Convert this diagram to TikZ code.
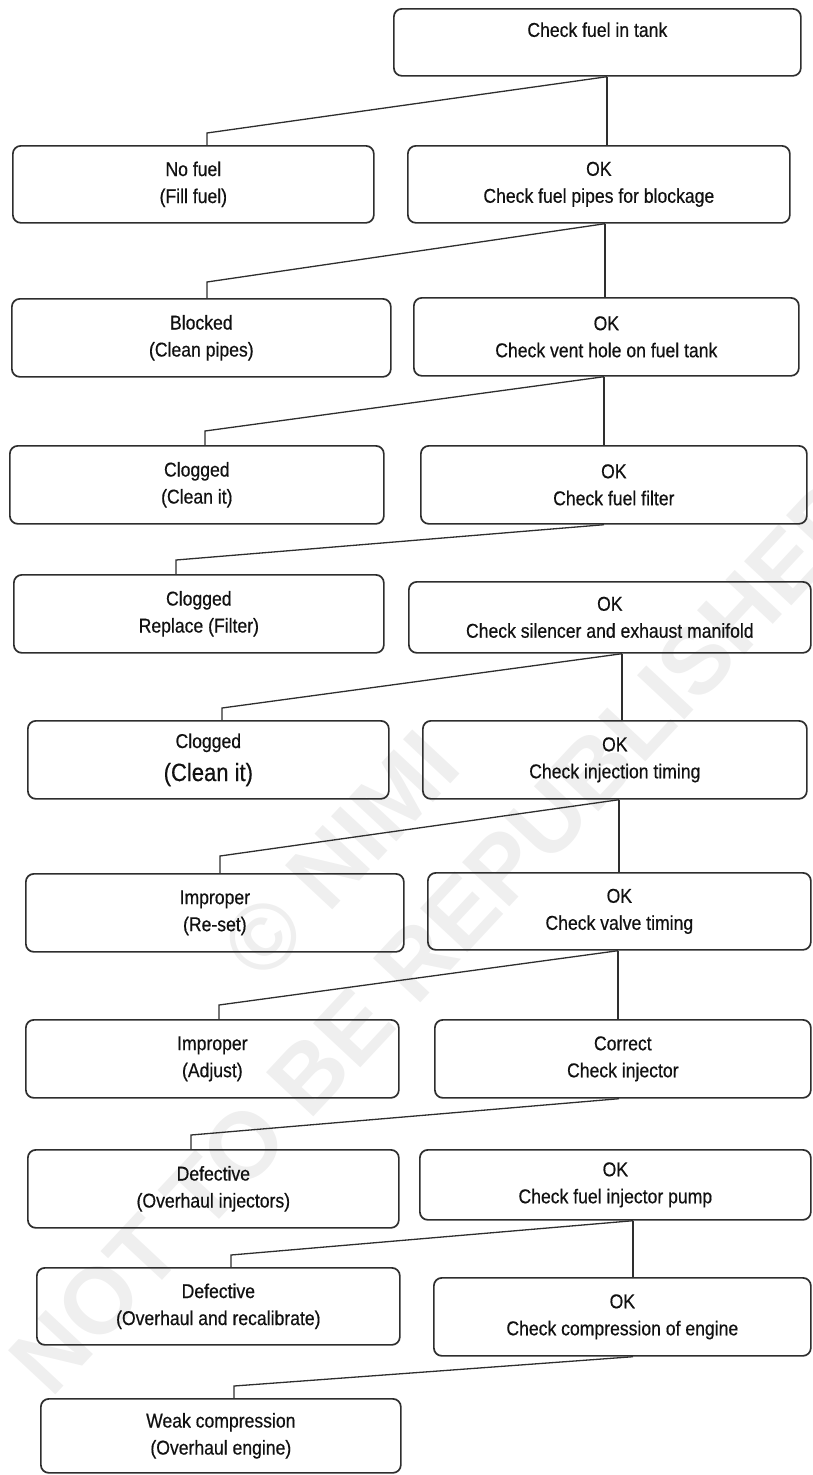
\documentclass[tikz,border=0pt]{standalone}
\usepackage{fontspec}
\setmainfont{Liberation Sans}[FakeStretch=0.88, FakeBold=0.5]
\newfontfamily\stampfont{Liberation Sans}
\definecolor{edge}{HTML}{2E2E2E}
\definecolor{ink}{HTML}{111111}
\definecolor{faint}{HTML}{EFEFEF}

% \flowbox{name}{x1}{y1}{x2}{y2}{text}: rounded box given by its corners
\newcommand\flowbox[6]{%
  \node[box, anchor=north west, minimum width={(#4-#2)*1pt},
        minimum height={(#5-#3)*1pt}] (#1) at (#2,#3) {#6};}

\begin{document}
\begin{tikzpicture}[x=1pt, y=-1pt,
  box/.style={draw=edge, line width=1.7pt, rounded corners=8pt, align=center,
              inner sep=0pt, text=ink, font=\fontsize{20}{27}\selectfont},
  link/.style={draw=edge, line width=1.3pt},
  stamp/.style={text=faint, font=\stampfont\bfseries\fontsize{94}{94}\selectfont,
               rotate=47, inner sep=0pt}]
\useasboundingbox (0,0) rectangle (812,1475);

% background stamp
\node[stamp] (stamp1) at (340,855) {© NIMI};
\node[stamp] (stamp2) at (440,935) {NOT TO BE REPUBLISHED};

% boxes
\node[box, anchor=north west, minimum width=407pt, minimum height=67pt,
      text height=14.7pt, text depth=25.7pt] (A0) at (393,8) {Check fuel in tank};
\flowbox{L1}{12}{145}{373}{222}{No fuel\\(Fill fuel)}
\flowbox{R1}{407}{145}{789}{222}{OK\\Check fuel pipes for blockage}
\flowbox{L2}{11}{298}{390}{376}{Blocked\\(Clean pipes)}
\flowbox{R2}{413}{297}{798}{375}{OK\\Check vent hole on fuel tank}
\flowbox{L3}{9}{445}{383}{523}{Clogged\\(Clean it)}
\flowbox{R3}{420}{445}{806}{523}{OK\\Check fuel filter}
\flowbox{L4}{13}{574}{383}{652}{Clogged\\Replace (Filter)}
\flowbox{R4}{408}{581}{810}{652}{OK\\Check silencer and exhaust manifold}
\flowbox{L5}{27}{720}{388}{798}{Clogged\\[6pt]{\fontsize{25}{30}\selectfont(Clean it)}}
\flowbox{R5}{422}{720}{806}{798}{OK\\Check injection timing}
\flowbox{L6}{25}{873}{403}{951}{Improper\\(Re-set)}
\flowbox{R6}{427}{872}{810}{949}{OK\\Check valve timing}
\flowbox{L7}{25}{1019}{398}{1097}{Improper\\(Adjust)}
\flowbox{R7}{434}{1019}{810}{1097}{Correct\\Check injector}
\flowbox{L8}{27}{1149}{398}{1227}{Defective\\(Overhaul injectors)}
\flowbox{R8}{419}{1149}{810}{1219}{OK\\Check fuel injector pump}
\flowbox{L9}{36}{1267}{399}{1344}{Defective\\(Overhaul and recalibrate)}
\flowbox{R9}{433}{1277}{810}{1355}{OK\\Check compression of engine}
\flowbox{L10}{40}{1398}{400}{1472}{Weak compression\\(Overhaul engine)}

% branch columns (b) and knees (k) of the connectors
\coordinate (b0) at (607,0);  \coordinate (k0) at (207,133);
\coordinate (b1) at (605,0);  \coordinate (k1) at (207,282);
\coordinate (b2) at (604,0);  \coordinate (k2) at (205,431);
\coordinate (b3) at (604,0);  \coordinate (k3) at (176,560);
\coordinate (b4) at (622,0);  \coordinate (k4) at (222,708);
\coordinate (b5) at (619,0);  \coordinate (k5) at (220,856);
\coordinate (b6) at (618,0);  \coordinate (k6) at (219,1005);
\coordinate (b7) at (619,0);  \coordinate (k7) at (191,1135);
\coordinate (b8) at (633,0);  \coordinate (k8) at (231,1255);
\coordinate (b9) at (633,0);  \coordinate (k9) at (234,1386);

% straight-down "OK" links
\draw[link] (A0.south -| b0) -- (R1.north -| b0);
\draw[link] (R1.south -| b1) -- (R2.north -| b1);
\draw[link] (R2.south -| b2) -- (R3.north -| b2);
\draw[link] (R4.south -| b4) -- (R5.north -| b4);
\draw[link] (R5.south -| b5) -- (R6.north -| b5);
\draw[link] (R6.south -| b6) -- (R7.north -| b6);
\draw[link] (R8.south -| b8) -- (R9.north -| b8);

% slanted links to the fault boxes
\draw[link] (A0.south -| b0) -- (k0) -- (L1.north -| k0);
\draw[link] (R1.south -| b1) -- (k1) -- (L2.north -| k1);
\draw[link] (R2.south -| b2) -- (k2) -- (L3.north -| k2);
\draw[link] (R3.south -| b3) -- (k3) -- (L4.north -| k3);
\draw[link] (R4.south -| b4) -- (k4) -- (L5.north -| k4);
\draw[link] (R5.south -| b5) -- (k5) -- (L6.north -| k5);
\draw[link] (R6.south -| b6) -- (k6) -- (L7.north -| k6);
\draw[link] (R7.south -| b7) -- (k7) -- (L8.north -| k7);
\draw[link] (R8.south -| b8) -- (k8) -- (L9.north -| k8);
\draw[link] (R9.south -| b9) -- (k9) -- (L10.north -| k9);
\end{tikzpicture}
\end{document}
